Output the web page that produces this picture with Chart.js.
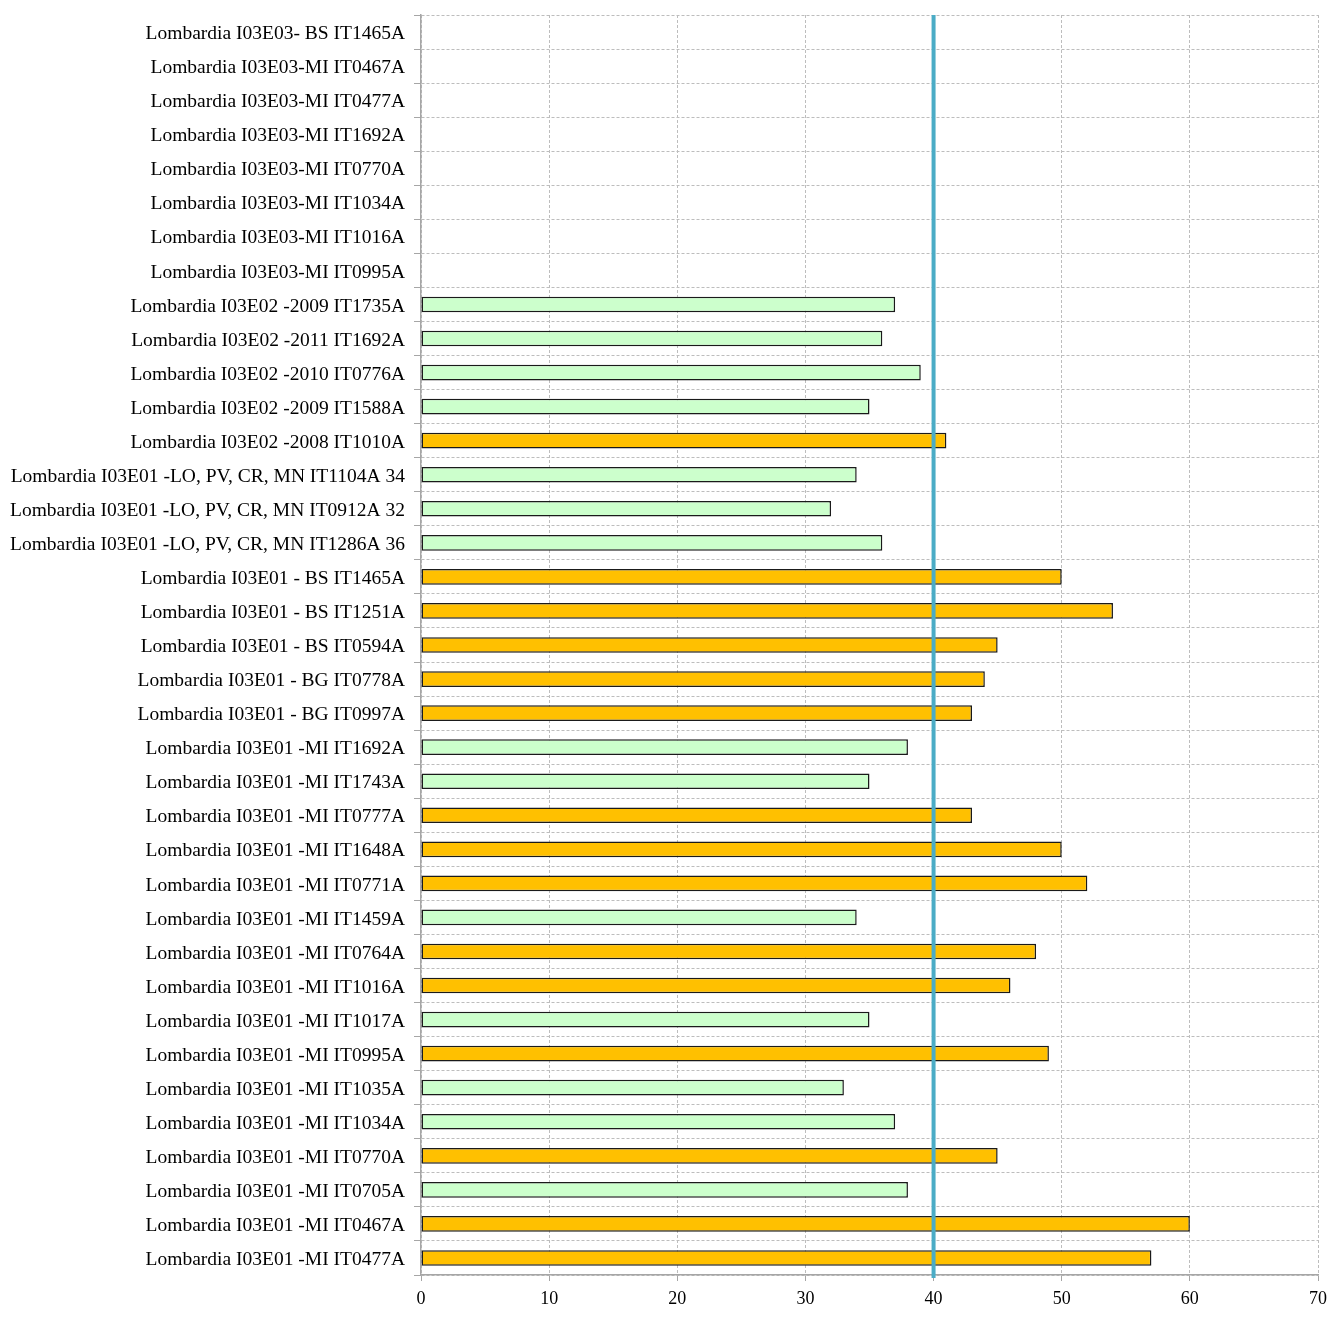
<!DOCTYPE html>
<html>
<head>
<meta charset="utf-8">
<script src="https://cdn.jsdelivr.net/npm/chart.js@4/dist/chart.umd.min.js"></script>
<style>
  html, body { margin: 0; padding: 0; background: #fff; }
  #wrap { width: 1343px; height: 1318px; position: relative; }
</style>
</head>
<body>
<div id="wrap"><canvas id="barChart"></canvas></div>
<script>
// Stations (top to bottom) and their values
const stations = [
  'Lombardia I03E03- BS IT1465A',
  'Lombardia I03E03-MI IT0467A',
  'Lombardia I03E03-MI IT0477A',
  'Lombardia I03E03-MI IT1692A',
  'Lombardia I03E03-MI IT0770A',
  'Lombardia I03E03-MI IT1034A',
  'Lombardia I03E03-MI IT1016A',
  'Lombardia I03E03-MI IT0995A',
  'Lombardia I03E02 -2009 IT1735A',
  'Lombardia I03E02 -2011 IT1692A',
  'Lombardia I03E02 -2010 IT0776A',
  'Lombardia I03E02 -2009 IT1588A',
  'Lombardia I03E02 -2008 IT1010A',
  'Lombardia I03E01 -LO, PV, CR, MN IT1104A 34',
  'Lombardia I03E01 -LO, PV, CR, MN IT0912A 32',
  'Lombardia I03E01 -LO, PV, CR, MN IT1286A 36',
  'Lombardia I03E01 - BS IT1465A',
  'Lombardia I03E01 - BS IT1251A',
  'Lombardia I03E01 - BS IT0594A',
  'Lombardia I03E01 - BG IT0778A',
  'Lombardia I03E01 - BG IT0997A',
  'Lombardia I03E01 -MI IT1692A',
  'Lombardia I03E01 -MI IT1743A',
  'Lombardia I03E01 -MI IT0777A',
  'Lombardia I03E01 -MI IT1648A',
  'Lombardia I03E01 -MI IT0771A',
  'Lombardia I03E01 -MI IT1459A',
  'Lombardia I03E01 -MI IT0764A',
  'Lombardia I03E01 -MI IT1016A',
  'Lombardia I03E01 -MI IT1017A',
  'Lombardia I03E01 -MI IT0995A',
  'Lombardia I03E01 -MI IT1035A',
  'Lombardia I03E01 -MI IT1034A',
  'Lombardia I03E01 -MI IT0770A',
  'Lombardia I03E01 -MI IT0705A',
  'Lombardia I03E01 -MI IT0467A',
  'Lombardia I03E01 -MI IT0477A'
];
const values = [
  null, null, null, null, null, null, null, null,
  37, 36, 39, 35, 41,
  34, 32, 36,
  50, 54, 45, 44, 43,
  38, 35, 43, 50, 52, 34, 48, 46, 35, 49, 33, 37, 45, 38, 60, 57
];
const limitValue = 40;
const xTicks = [0, 10, 20, 30, 40, 50, 60, 70];

const overColor = '#ffc000';
const underColor = '#ccffcc';
const serif = "'Liberation Serif', 'Times New Roman', serif";

// vertical limit line at 40
const limitLine = {
  id: 'limitLine',
  afterDatasetsDraw(chart) {
    const { ctx, chartArea, scales } = chart;
    const x = scales.x.getPixelForValue(limitValue);
    ctx.save();
    ctx.strokeStyle = '#4bacc6';
    ctx.lineWidth = 4;
    ctx.beginPath();
    ctx.moveTo(x, chartArea.top);
    ctx.lineTo(x, chartArea.bottom + 3);
    ctx.stroke();
    ctx.restore();
  }
};

new Chart(document.getElementById('barChart'), {
  type: 'bar',
  data: {
    labels: stations,
    datasets: [{
      data: values,
      backgroundColor: values.map(v => v > limitValue ? overColor : underColor),
      borderColor: '#1a1a1a',
      borderWidth: 1.5,
      borderSkipped: false,
      categoryPercentage: 1,
      barPercentage: 0.46
    }]
  },
  options: {
    indexAxis: 'y',
    responsive: true,
    maintainAspectRatio: false,
    animation: false,
    layout: { padding: { top: 15, right: 25, left: 9, bottom: 0 } },
    plugins: { legend: { display: false }, tooltip: { enabled: false } },
    scales: {
      x: {
        min: 0, max: 70,
        afterBuildTicks: s => { s.ticks = xTicks.map(v => ({ value: v })); },
        afterFit: s => { s.height = 43; },
        grid: { color: '#bdbdbd', lineWidth: 1, tickLength: 6, tickColor: '#a6a6a6' },
        border: { display: true, color: '#a6a6a6', width: 1.5, dash: [3, 2] },
        ticks: { color: '#000', font: { family: serif, size: 18 }, padding: 7 }
      },
      y: {
        afterFit: s => { s.width = 412; s.paddingTop = 0; s.paddingBottom = 0; },
        grid: { offset: true, color: '#bdbdbd', lineWidth: 1, tickLength: 7, tickColor: '#a6a6a6' },
        border: { display: true, color: '#a6a6a6', width: 1.5, dash: [3, 2] },
        ticks: { color: '#000', font: { family: serif, size: 19.5 }, padding: 9, labelOffset: 2, autoSkip: false }
      }
    }
  },
  plugins: [limitLine]
});
</script>
</body>
</html>
